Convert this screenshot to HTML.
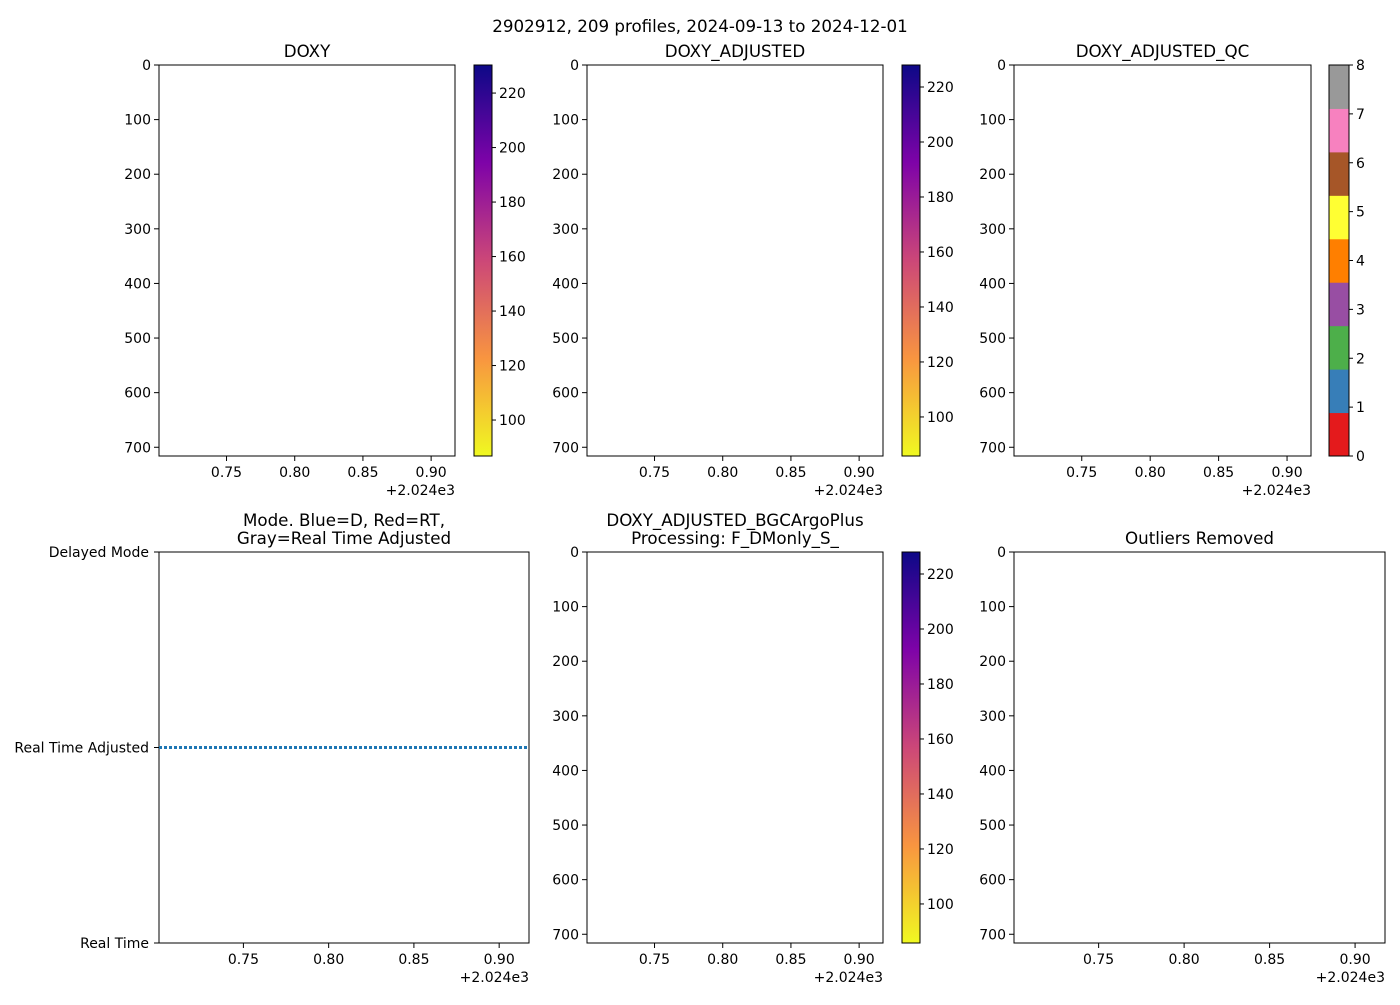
<!DOCTYPE html>
<html><head><meta charset="utf-8"><style>
body{margin:0;background:#fff;}
svg text{font-family:"DejaVu Sans","Liberation Sans",sans-serif;fill:#000;}
</style></head><body>
<svg id="fig" width="1400" height="1000" xmlns="http://www.w3.org/2000/svg">
<defs>
<linearGradient id="plasma" x1="0" y1="1" x2="0" y2="0">
<stop offset="0" stop-color="#f0f921"/><stop offset="0.25" stop-color="#f89540"/><stop offset="0.5" stop-color="#cc4778"/><stop offset="0.75" stop-color="#7e03a8"/><stop offset="1" stop-color="#0d0887"/>
</linearGradient>
</defs>
<text x="700" y="32" text-anchor="middle" font-size="16.7">2902912, 209 profiles, 2024-09-13 to 2024-12-01</text>
</svg>
<script>
const xTicks=[0.75,0.80,0.85,0.90];
const xTickLabels=["0.75","0.80","0.85","0.90"];
const xDomain=[0.7005,0.9175];
const depthTicks=[0,100,200,300,400,500,600,700];
const depthDomain=[0,716];
const cbarTicks=[100,120,140,160,180,200,220];
const cbar1Domain=[86.8,230.3];
const cbar2Domain=[85.8,228];
const qcTicks=[0,1,2,3,4,5,6,7,8];
const qcColors=["#e41a1c","#377eb8","#4daf4a","#984ea3","#ff7f00","#ffff33","#a65628","#f781bf","#999999"];
const modeLabels=["Real Time","Real Time Adjusted","Delayed Mode"];
const modeValues=[1,1];

const FS=14, TFS=16.7;
const svg=document.getElementById('fig');
const NS="http://www.w3.org/2000/svg";
function el(tag,attrs,parent){const e=document.createElementNS(NS,tag);for(const k in attrs)e.setAttribute(k,attrs[k]);(parent||svg).appendChild(e);return e;}
function txt(s,attrs,parent){const t=el('text',attrs,parent);t.textContent=s;return t;}

function axes(name,x0,y0,w,h,title,depth,ylabels){
  const g=el('g',{});
  
  
  const sx=v=>x0+(v-xDomain[0])/(xDomain[1]-xDomain[0])*w;
  xTicks.forEach((v,i)=>{const x=sx(v);el('line',{x1:x,y1:y0+h,x2:x,y2:y0+h+5,stroke:'#000','stroke-width':1},g);
    const t=txt(xTickLabels[i],{x:x,y:y0+h+21,'text-anchor':'middle','font-size':FS},g);
    
    });
  txt('+2.024e3',{x:x0+w,y:y0+h+39,'text-anchor':'end','font-size':FS},g);
  if(depth){
    const sy=v=>y0+(v-depthDomain[0])/(depthDomain[1]-depthDomain[0])*h;
    depthTicks.forEach(v=>{const y=sy(v);el('line',{x1:x0-5,y1:y,x2:x0,y2:y,stroke:'#000'},g);
      const t=txt(String(v),{x:x0-8,y:y+5,'text-anchor':'end','font-size':FS},g);
      
      });
  }
  if(ylabels){
    ylabels.forEach((lab,i)=>{const y=y0+h-i/(ylabels.length-1)*h;el('line',{x1:x0-5,y1:y,x2:x0,y2:y,stroke:'#000'},g);
      txt(lab,{x:x0-10,y:y+5,'text-anchor':'end','font-size':FS},g);});
  }
  el('rect',{x:x0,y:y0,width:w,height:h,fill:'none',stroke:'#000','stroke-width':1},g);
  if(Array.isArray(title)){title.forEach((s,i)=>txt(s,{x:x0+w/2,y:y0-8-(title.length-1-i)*18,'text-anchor':'middle','font-size':TFS},g));}
  else txt(title,{x:x0+w/2,y:y0-8,'text-anchor':'middle','font-size':TFS},g);
  return {sx,g};
}
function cbar(name,x0,y0,w,h,dom){
  const g=el('g',{});
  
  
  el('rect',{x:x0,y:y0,width:w,height:h,fill:'url(#plasma)',stroke:'#000'},g);
  cbarTicks.forEach(v=>{const y=y0+h-(v-dom[0])/(dom[1]-dom[0])*h;
    el('line',{x1:x0+w,y1:y,x2:x0+w+4,y2:y,stroke:'#000'},g);
    txt(String(v),{x:x0+w+7,y:y+5,'font-size':FS},g);});
}
axes('doxy-panel',159,65,296,391,'DOXY',true);
cbar('doxy-colorbar',474,65,18,391,cbar1Domain);
axes('doxy-adjusted-panel',587,65,296,391,'DOXY_ADJUSTED',true);
cbar('doxy-adjusted-colorbar',902,65,18,391,cbar2Domain);
axes('doxy-adjusted-qc-panel',1014,65,297,391,'DOXY_ADJUSTED_QC',true);
(function(){const g=el('g',{});
  
  
  const x0=1329,y0=65,w=20,h=391,n=qcColors.length;
  qcColors.forEach((c,i)=>{const r=el('rect',{x:x0,y:y0+h-(i+1)*h/n,width:w,height:h/n+0.5,fill:c},g);
    
    });
  el('rect',{x:x0,y:y0,width:w,height:h,fill:'none',stroke:'#000'},g);
  qcTicks.forEach(v=>{const y=y0+h-v/8*h;el('line',{x1:x0+w,y1:y,x2:x0+w+4,y2:y,stroke:'#000'},g);
    txt(String(v),{x:x0+w+7,y:y+5,'font-size':FS},g);});
})();
const m=axes('mode-panel',159,552,370,391,['Mode. Blue=D, Red=RT,','Gray=Real Time Adjusted'],false,modeLabels);
(function(){const y0=552,h=391;const sy=v=>y0+h-v/(modeLabels.length-1)*h;
  const l=el('line',{x1:m.sx(xDomain[0]),y1:sy(modeValues[0]),x2:m.sx(xDomain[1]),y2:sy(modeValues[1]),stroke:'#1f77b4','stroke-width':3,'stroke-dasharray':'3 2'});
  
  })();
axes('bgc-argoplus-panel',587,552,296,391,['DOXY_ADJUSTED_BGCArgoPlus','Processing: F_DMonly_S_'],true);
cbar('bgc-argoplus-colorbar',902,552,18,391,cbar2Domain);
axes('outliers-removed-panel',1014,552,371,391,'Outliers Removed',true);
</script>
</body></html>
